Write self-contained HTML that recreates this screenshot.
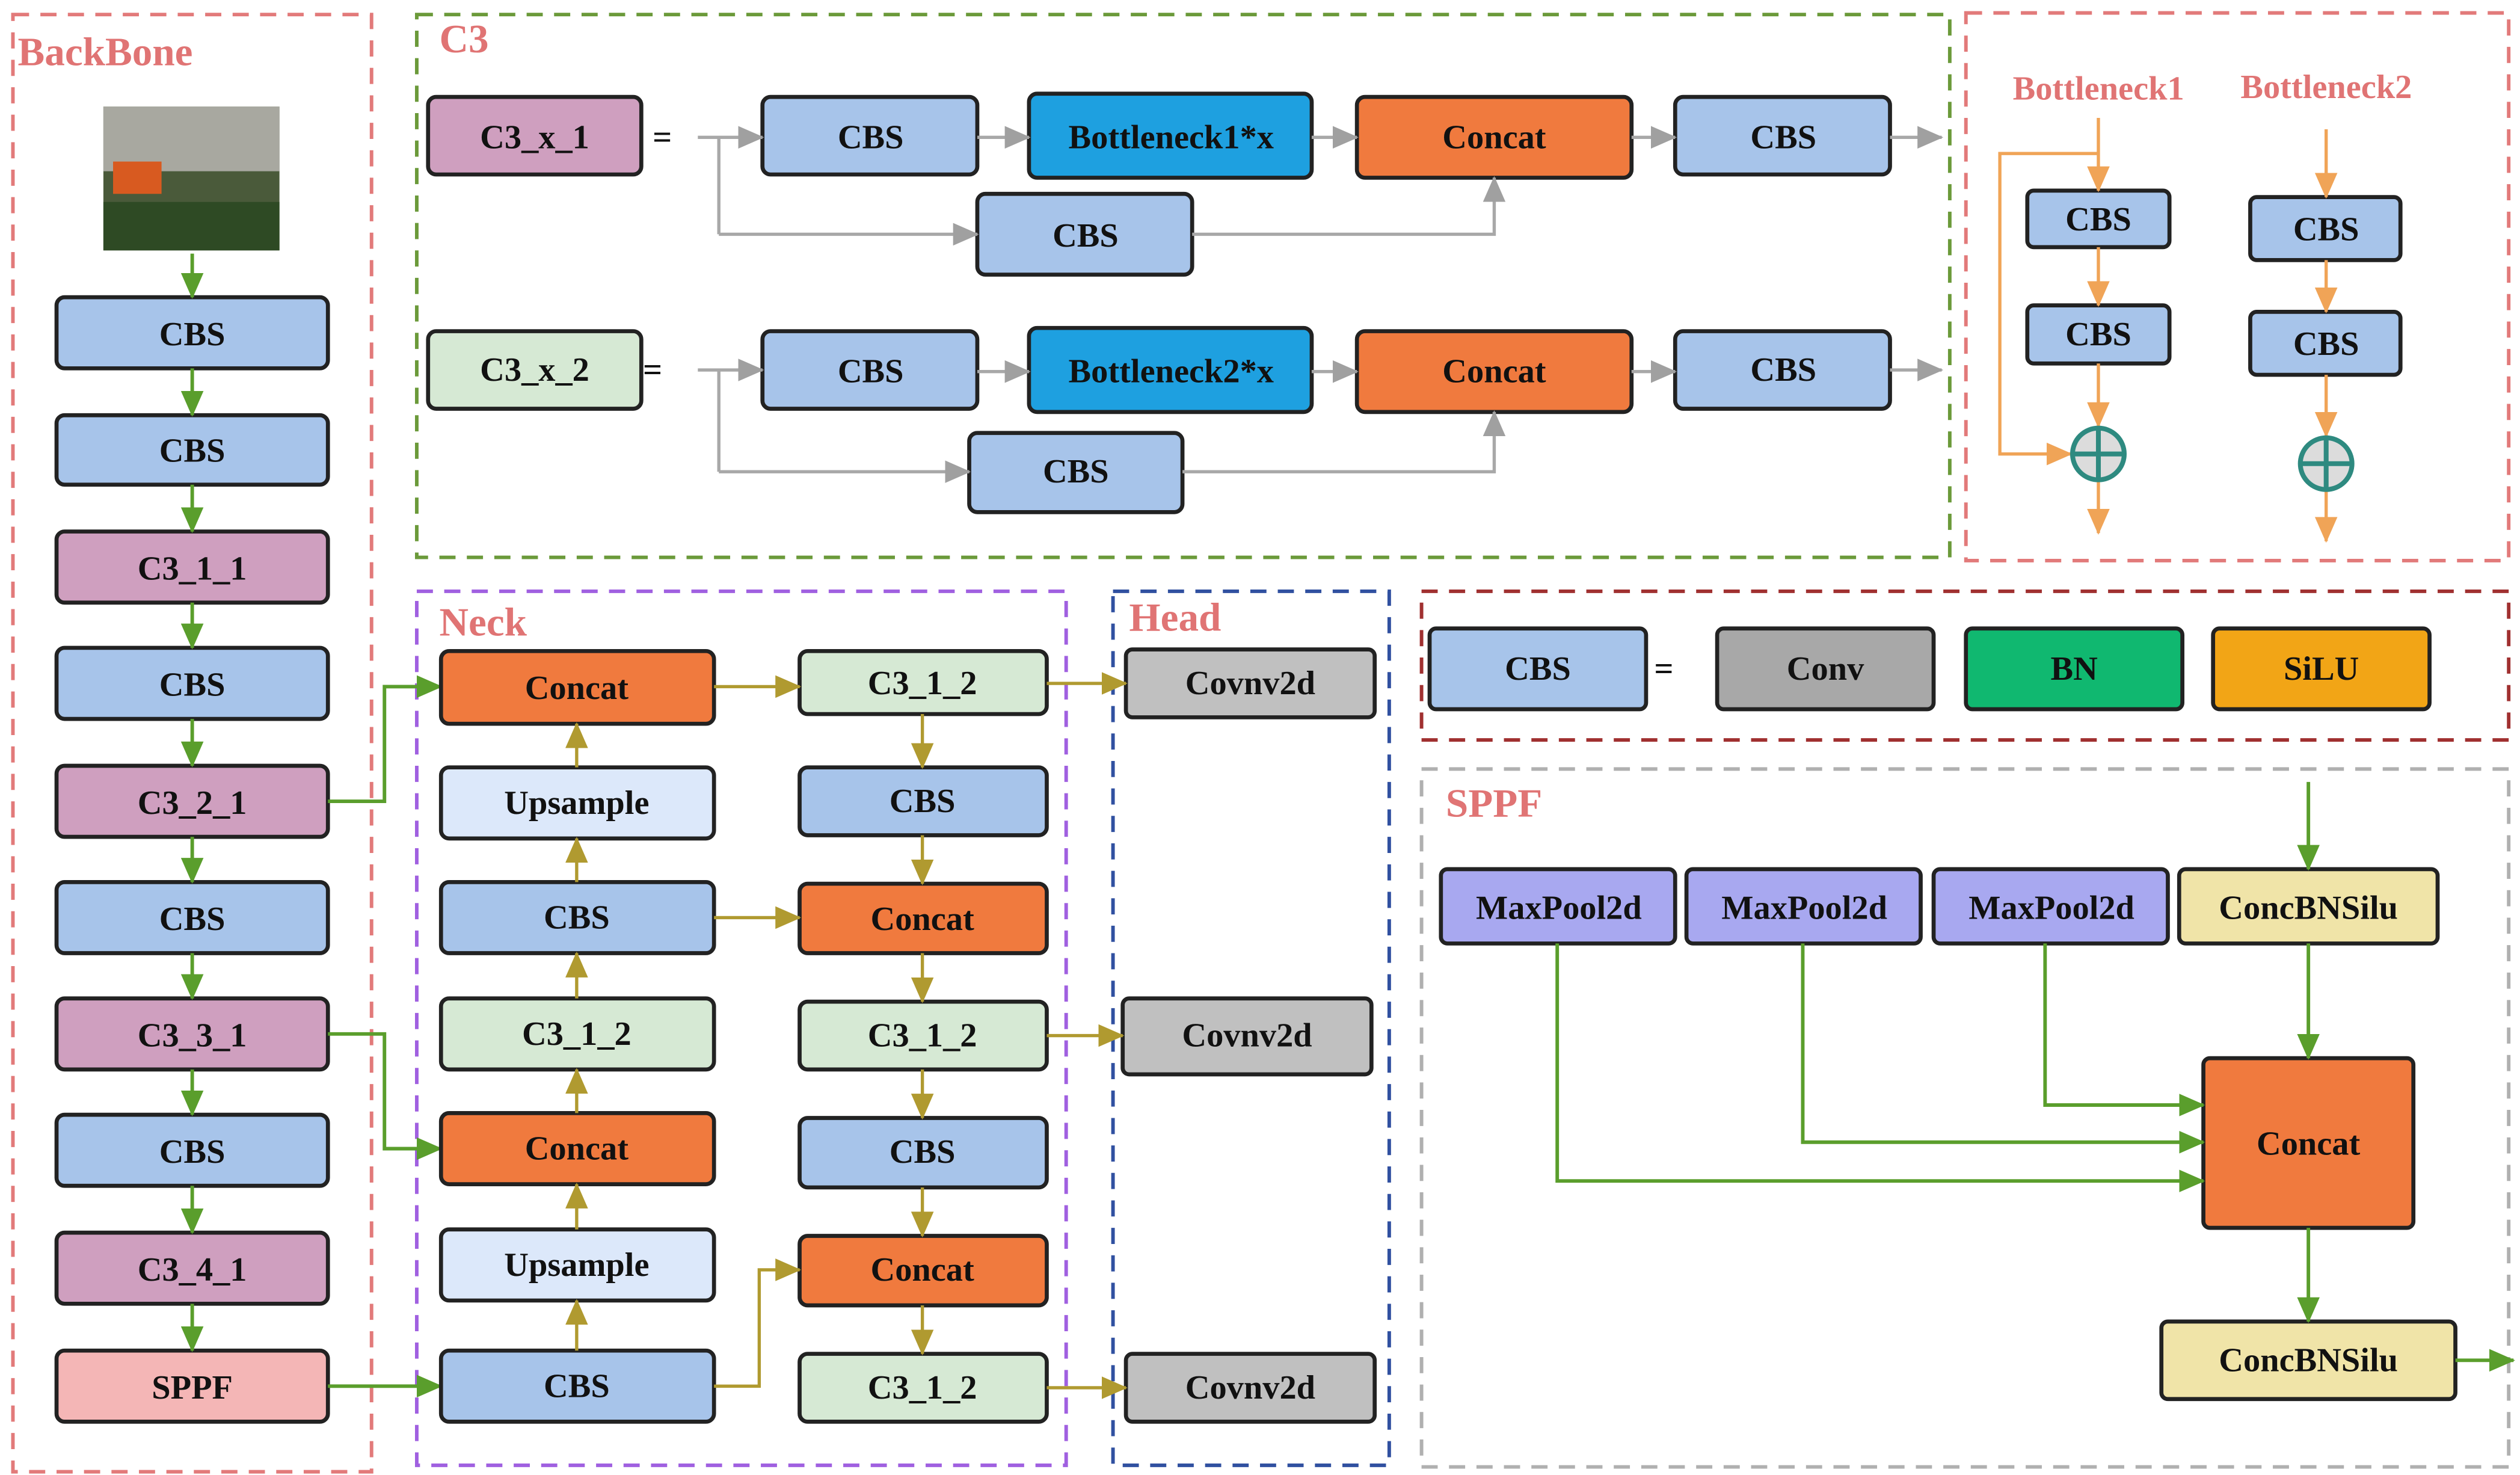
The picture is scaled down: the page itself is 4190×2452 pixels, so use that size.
<!DOCTYPE html>
<html><head><meta charset="utf-8"><style>html,body{margin:0;padding:0;background:#fff}svg{display:block}
svg text{font-family:"Liberation Serif","DejaVu Serif",serif;font-weight:bold}</style></head>
<body>
<svg width="4190" height="2452" viewBox="0 0 1560 913" preserveAspectRatio="none" xmlns="http://www.w3.org/2000/svg">
<defs>
<marker id="g" markerUnits="userSpaceOnUse" markerWidth="16" markerHeight="14" refX="15" refY="7" orient="auto"><path d="M0,0L16,7L0,14z" fill="#5a9e2c"/></marker>
<marker id="gr" markerUnits="userSpaceOnUse" markerWidth="16" markerHeight="14" refX="15" refY="7" orient="auto"><path d="M0,0L16,7L0,14z" fill="#a0a0a0"/></marker>
<marker id="o" markerUnits="userSpaceOnUse" markerWidth="16" markerHeight="14" refX="15" refY="7" orient="auto"><path d="M0,0L16,7L0,14z" fill="#f0a457"/></marker>
<marker id="y" markerUnits="userSpaceOnUse" markerWidth="16" markerHeight="14" refX="15" refY="7" orient="auto"><path d="M0,0L16,7L0,14z" fill="#b09a30"/></marker>
</defs>
<style>
.b{stroke:#222;stroke-width:2.5}
text{font-size:21px;text-anchor:middle;dominant-baseline:central;fill:#111}
.t{fill:#e07474;font-size:25px;text-anchor:start}
.ga{stroke:#5a9e2c;stroke-width:2.2;fill:none;marker-end:url(#g)}
.gy{stroke:#a8a8a8;stroke-width:2;fill:none;marker-end:url(#gr)}
.gyn{stroke:#a8a8a8;stroke-width:2;fill:none}
.oa{stroke:#f0a457;stroke-width:2;fill:none;marker-end:url(#o)}
.ya{stroke:#b09a30;stroke-width:2;fill:none;marker-end:url(#y)}
</style>
<g fill="none" stroke-width="2.2" stroke-dasharray="10,7">
<rect x="8" y="9" width="222" height="902" stroke="#e27a7a"/>
<rect x="258" y="9" width="949" height="336" stroke="#6b9a3a"/>
<rect x="1217" y="8" width="336" height="339" stroke="#e27a7a"/>
<rect x="258" y="366" width="402" height="541" stroke="#a060e0"/>
<rect x="689" y="366" width="171" height="541" stroke="#3050a0"/>
<rect x="880" y="366" width="673" height="92" stroke="#a03030"/>
<rect x="880" y="476" width="673" height="432" stroke="#b0b0b0"/>
</g>
<text class="t" x="11" y="32">BackBone</text>
<text class="t" x="272" y="24">C3</text>
<text class="t" x="272" y="385">Neck</text>
<text class="t" x="699" y="382">Head</text>
<text class="t" x="895" y="497">SPPF</text>
<text class="t" x="1246" y="55" style="font-size:21px">Bottleneck1</text>
<text class="t" x="1387" y="54" style="font-size:21px">Bottleneck2</text>
<rect x="64" y="66" width="109" height="89" fill="#4a5a3a"/>
<rect x="64" y="66" width="109" height="40" fill="#a8a8a0"/>
<rect x="70" y="100" width="30" height="20" fill="#d85a20"/>
<rect x="64" y="125" width="109" height="30" fill="#2e4a24"/>
<g class="b">
<rect x="35" y="184" width="168" height="44" rx="5" fill="#a7c4ea"/>
<rect x="35" y="257" width="168" height="43" rx="5" fill="#a7c4ea"/>
<rect x="35" y="329" width="168" height="44" rx="5" fill="#cf9fbf"/>
<rect x="35" y="401" width="168" height="44" rx="5" fill="#a7c4ea"/>
<rect x="35" y="474" width="168" height="44" rx="5" fill="#cf9fbf"/>
<rect x="35" y="546" width="168" height="44" rx="5" fill="#a7c4ea"/>
<rect x="35" y="618" width="168" height="44" rx="5" fill="#cf9fbf"/>
<rect x="35" y="690" width="168" height="44" rx="5" fill="#a7c4ea"/>
<rect x="35" y="763" width="168" height="44" rx="5" fill="#cf9fbf"/>
<rect x="35" y="836" width="168" height="44" rx="5" fill="#f4b6b6"/>
</g>
<text x="119" y="207">CBS</text><text x="119" y="279">CBS</text><text x="119" y="352">C3_1_1</text>
<text x="119" y="424">CBS</text><text x="119" y="497">C3_2_1</text><text x="119" y="569">CBS</text>
<text x="119" y="641">C3_3_1</text><text x="119" y="713">CBS</text><text x="119" y="786">C3_4_1</text><text x="119" y="859">SPPF</text>
<g>
<path class="ga" d="M119,157V184"/><path class="ga" d="M119,228V257"/><path class="ga" d="M119,300V329"/>
<path class="ga" d="M119,373V401"/><path class="ga" d="M119,445V474"/><path class="ga" d="M119,518V546"/>
<path class="ga" d="M119,590V618"/><path class="ga" d="M119,662V690"/><path class="ga" d="M119,734V763"/><path class="ga" d="M119,807V836"/>
<path class="ga" d="M203,496H238V425H273"/><path class="ga" d="M203,640H238V711H273"/><path class="ga" d="M203,858H273"/>
</g>
<g class="b">
<rect x="265" y="60" width="132" height="48" rx="5" fill="#cf9fbf"/>
<rect x="472" y="60" width="133" height="48" rx="5" fill="#a7c4ea"/>
<rect x="637" y="58" width="175" height="52" rx="5" fill="#1ea0e0"/>
<rect x="840" y="60" width="170" height="50" rx="5" fill="#f07a3e"/>
<rect x="1037" y="60" width="133" height="48" rx="5" fill="#a7c4ea"/>
<rect x="605" y="120" width="133" height="50" rx="5" fill="#a7c4ea"/>
<rect x="265" y="205" width="132" height="48" rx="5" fill="#d6e9d4"/>
<rect x="472" y="205" width="133" height="48" rx="5" fill="#a7c4ea"/>
<rect x="637" y="203" width="175" height="52" rx="5" fill="#1ea0e0"/>
<rect x="840" y="205" width="170" height="50" rx="5" fill="#f07a3e"/>
<rect x="1037" y="205" width="133" height="48" rx="5" fill="#a7c4ea"/>
<rect x="600" y="268" width="132" height="49" rx="5" fill="#a7c4ea"/>
</g>
<text x="331" y="85">C3_x_1</text><text x="410" y="85">=</text><text x="539" y="85">CBS</text><text x="725" y="85">Bottleneck1*x</text>
<text x="925" y="85">Concat</text><text x="1104" y="85">CBS</text><text x="672" y="146">CBS</text>
<text x="331" y="229">C3_x_2</text><text x="404" y="229">=</text><text x="539" y="230">CBS</text><text x="725" y="230">Bottleneck2*x</text>
<text x="925" y="230">Concat</text><text x="1104" y="229">CBS</text><text x="666" y="292">CBS</text>
<g>
<path class="gy" d="M432,85H472"/><path class="gyn" d="M445,85V145"/><path class="gy" d="M445,145H605"/>
<path class="gy" d="M605,85H637"/><path class="gy" d="M812,85H840"/><path class="gy" d="M1010,85H1037"/><path class="gy" d="M1170,85H1202"/>
<path class="gy" d="M738,145H925V110"/>
<path class="gy" d="M432,229H472"/><path class="gyn" d="M445,229V292"/><path class="gy" d="M445,292H600"/>
<path class="gy" d="M605,230H637"/><path class="gy" d="M812,230H840"/><path class="gy" d="M1010,230H1037"/><path class="gy" d="M1170,229H1202"/>
<path class="gy" d="M732,292H925V255"/>
</g>
<g class="b">
<rect x="1255" y="118" width="88" height="35" rx="4" fill="#a7c4ea"/>
<rect x="1255" y="189" width="88" height="36" rx="4" fill="#a7c4ea"/>
<rect x="1393" y="122" width="93" height="39" rx="4" fill="#a7c4ea"/>
<rect x="1393" y="193" width="93" height="39" rx="4" fill="#a7c4ea"/>
</g>
<text x="1299" y="136">CBS</text><text x="1299" y="207">CBS</text><text x="1440" y="142">CBS</text><text x="1440" y="213">CBS</text>
<path class="oa" d="M1299,108V118"/><path d="M1299,73V108" stroke="#f0a457" stroke-width="2"/>
<path class="oa" d="M1299,95H1238V281H1282"/>
<path class="oa" d="M1299,153V189"/><path class="oa" d="M1299,225V264"/><path class="oa" d="M1299,298V330"/>
<path class="oa" d="M1440,80V122"/><path class="oa" d="M1440,161V193"/><path class="oa" d="M1440,232V270"/><path class="oa" d="M1440,304V335"/>
<g stroke="#2e8a80" stroke-width="3" fill="#dcdcdc">
<circle cx="1299" cy="281" r="16"/><path d="M1283,281H1315M1299,265V297"/>
<circle cx="1440" cy="287" r="16"/><path d="M1424,287H1456M1440,271V303"/>
</g>
<g class="b">
<rect x="885" y="389" width="134" height="50" rx="4" fill="#a7c4ea"/>
<rect x="1063" y="389" width="134" height="50" rx="4" fill="#a8a8a8"/>
<rect x="1217" y="389" width="134" height="50" rx="4" fill="#10b870"/>
<rect x="1370" y="389" width="134" height="50" rx="4" fill="#f2a516"/>
</g>
<text x="952" y="414">CBS</text><text x="1030" y="414">=</text><text x="1130" y="414">Conv</text><text x="1284" y="414">BN</text><text x="1437" y="414">SiLU</text>
<g class="b">
<rect x="273" y="403" width="169" height="45" rx="5" fill="#f07a3e"/>
<rect x="273" y="475" width="169" height="44" rx="5" fill="#dce8fa"/>
<rect x="273" y="546" width="169" height="44" rx="5" fill="#a7c4ea"/>
<rect x="273" y="618" width="169" height="44" rx="5" fill="#d6e9d4"/>
<rect x="273" y="689" width="169" height="44" rx="5" fill="#f07a3e"/>
<rect x="273" y="761" width="169" height="44" rx="5" fill="#dce8fa"/>
<rect x="273" y="836" width="169" height="44" rx="5" fill="#a7c4ea"/>
<rect x="495" y="403" width="153" height="39" rx="5" fill="#d6e9d4"/>
<rect x="495" y="475" width="153" height="42" rx="5" fill="#a7c4ea"/>
<rect x="495" y="547" width="153" height="43" rx="5" fill="#f07a3e"/>
<rect x="495" y="620" width="153" height="42" rx="5" fill="#d6e9d4"/>
<rect x="495" y="692" width="153" height="43" rx="5" fill="#a7c4ea"/>
<rect x="495" y="765" width="153" height="43" rx="5" fill="#f07a3e"/>
<rect x="495" y="838" width="153" height="42" rx="5" fill="#d6e9d4"/>
<rect x="697" y="402" width="154" height="42" rx="4" fill="#c0c0c0"/>
<rect x="695" y="618" width="154" height="47" rx="4" fill="#c0c0c0"/>
<rect x="697" y="838" width="154" height="42" rx="4" fill="#c0c0c0"/>
</g>
<text x="357" y="426">Concat</text><text x="357" y="497">Upsample</text><text x="357" y="568">CBS</text><text x="357" y="640">C3_1_2</text>
<text x="357" y="711">Concat</text><text x="357" y="783">Upsample</text><text x="357" y="858">CBS</text>
<text x="571" y="423">C3_1_2</text><text x="571" y="496">CBS</text><text x="571" y="569">Concat</text><text x="571" y="641">C3_1_2</text>
<text x="571" y="713">CBS</text><text x="571" y="786">Concat</text><text x="571" y="859">C3_1_2</text>
<text x="774" y="423">Covnv2d</text><text x="772" y="641">Covnv2d</text><text x="774" y="859">Covnv2d</text>
<g>
<path class="ya" d="M357,475V448"/><path class="ya" d="M357,546V519"/><path class="ya" d="M357,618V590"/><path class="ya" d="M357,689V662"/>
<path class="ya" d="M357,761V733"/><path class="ya" d="M357,836V805"/>
<path class="ya" d="M442,425H495"/><path class="ya" d="M442,568H495"/><path class="ya" d="M442,858H470V786H495"/>
<path class="ya" d="M571,442V475"/><path class="ya" d="M571,517V547"/><path class="ya" d="M571,590V620"/><path class="ya" d="M571,662V692"/>
<path class="ya" d="M571,735V765"/><path class="ya" d="M571,808V838"/>
<path class="ya" d="M648,423H697"/><path class="ya" d="M648,641H695"/><path class="ya" d="M648,859H697"/>
</g>
<g class="b">
<rect x="892" y="538" width="145" height="46" rx="4" fill="#a8a8f0"/>
<rect x="1044" y="538" width="145" height="46" rx="4" fill="#a8a8f0"/>
<rect x="1197" y="538" width="145" height="46" rx="4" fill="#a8a8f0"/>
<rect x="1349" y="538" width="160" height="46" rx="4" fill="#f0e4a8"/>
<rect x="1364" y="655" width="130" height="105" rx="4" fill="#f07a3e"/>
<rect x="1338" y="818" width="182" height="48" rx="4" fill="#f0e4a8"/>
</g>
<text x="965" y="562">MaxPool2d</text><text x="1117" y="562">MaxPool2d</text><text x="1270" y="562">MaxPool2d</text><text x="1429" y="562">ConcBNSilu</text>
<text x="1429" y="708">Concat</text><text x="1429" y="842">ConcBNSilu</text>
<g>
<path class="ga" d="M1429,484V538"/><path class="ga" d="M1429,584V655"/><path class="ga" d="M1429,760V818"/><path class="ga" d="M1520,842H1556"/>
<path class="ga" d="M1266,584V684H1364"/><path class="ga" d="M1116,584V707H1364"/><path class="ga" d="M964,584V731H1364"/>
</g>
</svg>
</body></html>
